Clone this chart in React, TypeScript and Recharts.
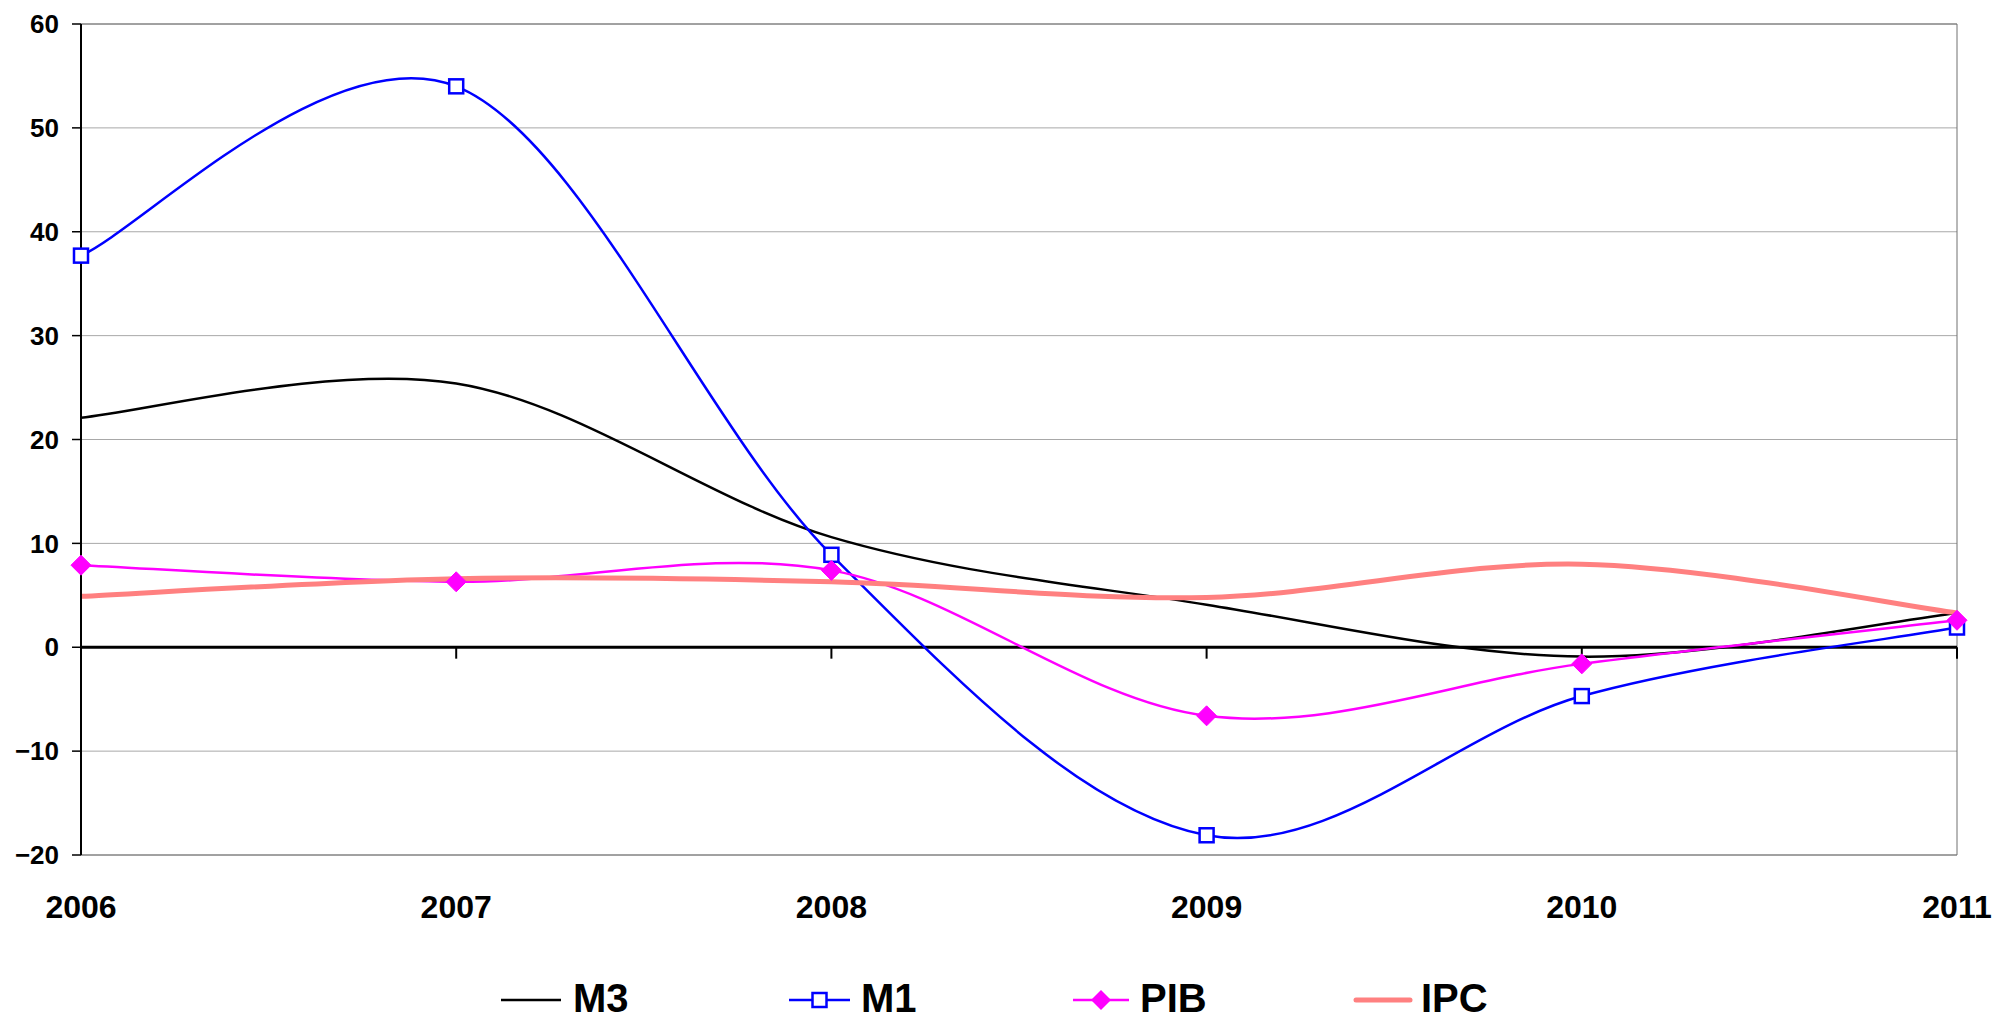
import React from 'react';
import { LineChart, Line, XAxis, YAxis, CartesianGrid, ReferenceLine, ReferenceArea } from 'recharts';

const years = [2006, 2007, 2008, 2009, 2010, 2011];
const m3 = [22.1, 25.4, 10.6, 4.1, -0.9, 3.3];
const m1 = [37.7, 54.0, 8.9, -18.1, -4.7, 1.9];
const pib = [7.9, 6.3, 7.4, -6.6, -1.6, 2.6];
const ipc = [4.9, 6.6, 6.3, 4.8, 8.0, 3.3];
const yTicks = [-20, -10, 0, 10, 20, 30, 40, 50, 60];

const data = years.map((year, i) => ({ year, M3: m3[i], M1: m1[i], PIB: pib[i], IPC: ipc[i] }));

const FONT = '"Liberation Sans", Arial, sans-serif';

// Excel-like smoothed line (Catmull-Rom style bezier, tension 1/6)
function excelSmooth(context: any) {
  let xs: number[] = [];
  let ys: number[] = [];
  return {
    areaStart() {},
    areaEnd() {},
    lineStart() {
      xs = [];
      ys = [];
    },
    point(x: number, y: number) {
      xs.push(+x);
      ys.push(+y);
    },
    lineEnd() {
      const n = xs.length;
      if (n === 0) return;
      context.moveTo(xs[0], ys[0]);
      for (let i = 0; i < n - 1; i++) {
        const a = Math.max(i - 1, 0);
        const d = Math.min(i + 2, n - 1);
        const x1 = xs[i], y1 = ys[i], x2 = xs[i + 1], y2 = ys[i + 1];
        context.bezierCurveTo(
          x1 + (x2 - xs[a]) / 6,
          y1 + (y2 - ys[a]) / 6,
          x2 - (xs[d] - x1) / 6,
          y2 - (ys[d] - y1) / 6,
          x2,
          y2
        );
      }
    },
  };
}

const SquareDot = (props: any) => {
  const { cx, cy, key } = props;
  if (cx == null || cy == null) return null;
  return <rect key={key} x={cx - 7} y={cy - 7} width={14} height={14} fill="#fff" stroke="#0000FF" strokeWidth={2.5} />;
};

const DiamondDot = (props: any) => {
  const { cx, cy, key } = props;
  if (cx == null || cy == null) return null;
  return (
    <polygon
      key={key}
      points={`${cx},${cy - 10} ${cx + 10},${cy} ${cx},${cy + 10} ${cx - 10},${cy}`}
      fill="#FF00FF"
      stroke="#FF00FF"
      strokeWidth={1}
    />
  );
};

const fmt = (v: number) => (v < 0 ? '\u2212' + Math.abs(v) : String(v));

const Legend2 = () => {
  const ty = 1012;
  const ly = 1000;
  return (
    <svg width={1995} height={1022} style={{ position: 'absolute', left: 0, top: 0, pointerEvents: 'none' }}>
      <g fontFamily={FONT} fontWeight="bold" fontSize={40} fill="#000">
        <line x1={501} y1={ly} x2={561} y2={ly} stroke="#000" strokeWidth={2.5} />
        <text x={573} y={ty}>M3</text>
        <line x1={789} y1={ly} x2={850} y2={ly} stroke="#0000FF" strokeWidth={2.5} />
        <rect x={812.5} y={ly - 7} width={14} height={14} fill="#fff" stroke="#0000FF" strokeWidth={2.5} />
        <text x={861} y={ty}>M1</text>
        <line x1={1073} y1={ly} x2={1129} y2={ly} stroke="#FF00FF" strokeWidth={2.5} />
        <polygon points={`1101,${ly - 10} 1111,${ly} 1101,${ly + 10} 1091,${ly}`} fill="#FF00FF" />
        <text x={1140} y={ty}>PIB</text>
        <line x1={1356} y1={ly} x2={1410} y2={ly} stroke="#FF8080" strokeWidth={5} strokeLinecap="round" />
        <text x={1421} y={ty}>IPC</text>
      </g>
    </svg>
  );
};

export default function App() {
  return (
    <div style={{ position: 'absolute', left: 0, top: 0, width: 1995, height: 1022, background: '#fff' }}>
      <LineChart
        width={1995}
        height={1022}
        data={data}
        margin={{ top: 24, right: 38, bottom: 107, left: 0 }}
      >
        <CartesianGrid vertical={false} stroke="#a8a8a8" strokeWidth={1} />
        <ReferenceArea x1={2006} x2={2011} y1={-20} y2={60} fill="none" stroke="#707070" strokeWidth={1} />
        <XAxis
          dataKey="year"
          type="number"
          domain={[2006, 2011]}
          ticks={years}
          allowDecimals={false}
          axisLine={false}
          tickLine={false}
          tickSize={0}
          tickMargin={40}
          height={60}
          interval={0}
          tick={{ fill: '#000', fontSize: 32, fontWeight: 'bold', fontFamily: FONT }}
        />
        <YAxis
          type="number"
          domain={[-20, 60]}
          ticks={yTicks}
          width={81}
          interval={0}
          axisLine={{ stroke: '#000', strokeWidth: 2 }}
          tickLine={{ stroke: '#000', strokeWidth: 1.5 }}
          tickSize={9}
          tickMargin={13}
          tickFormatter={fmt}
          tick={{ fill: '#000', fontSize: 26, fontWeight: 'bold', fontFamily: FONT }}
        />
        <ReferenceLine y={0} stroke="#000" strokeWidth={3} />
        {years.map((yr) => (
          <ReferenceLine
            key={'t' + yr}
            segment={[{ x: yr, y: 0 }, { x: yr, y: -1.1 }]}
            stroke="#000"
            strokeWidth={2}
          />
        ))}
        <Line dataKey="M3" type={excelSmooth as any} stroke="#000" strokeWidth={2.5} dot={false} activeDot={false} isAnimationActive={false} />
        <Line dataKey="M1" type={excelSmooth as any} stroke="#0000FF" strokeWidth={2.5} dot={SquareDot} activeDot={false} isAnimationActive={false} />
        <Line dataKey="PIB" type={excelSmooth as any} stroke="#FF00FF" strokeWidth={2.5} dot={DiamondDot} activeDot={false} isAnimationActive={false} />
        <Line dataKey="IPC" type={excelSmooth as any} stroke="#FF8080" strokeWidth={5} dot={false} activeDot={false} isAnimationActive={false} />
      </LineChart>
      <Legend2 />
    </div>
  );
}
